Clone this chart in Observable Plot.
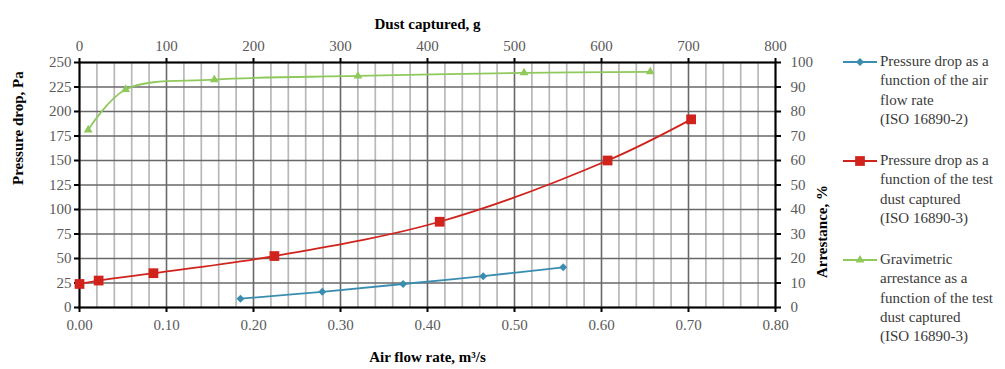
<!DOCTYPE html>
<html>
<head>
<meta charset="utf-8">
<script src="https://cdn.jsdelivr.net/npm/d3@7"></script>
<script src="https://cdn.jsdelivr.net/npm/@observablehq/plot@0.6"></script>
<style>
  html, body { margin: 0; padding: 0; background: #fff; }
  #wrap { position: relative; width: 1005px; height: 369px; font-family: "Liberation Serif", "Times New Roman", Times, Tinos, "Noto Serif", "DejaVu Serif", FreeSerif, serif; }
  #chart { position: absolute; left: 0; top: 0; }
  .item { position: absolute; left: 843px; width: 162px; }
  .item svg { position: absolute; left: 0; top: 0; }
  .item div { margin-left: 37px; font-size: 15px; line-height: 19.3px; color: #3a3a3a; white-space: nowrap; }
</style>
</head>
<body>
<div id="wrap">
  <div id="chart"></div>
</div>
<script>
// ---- data ----
// Series 1: pressure drop vs air flow rate (ISO 16890-2)
const flowRate = [0.185, 0.279, 0.372, 0.464, 0.556];
const flowDp   = [9, 16, 24, 32, 41];
// Series 2: pressure drop vs test dust captured (ISO 16890-3)
const dustG    = [0, 22, 85, 224, 414, 607, 703];
const dustDp   = [24, 27.5, 35, 52.5, 87.5, 150, 192];
// Series 3: gravimetric arrestance vs test dust captured (ISO 16890-3)
const arrDustG = [10, 53, 155, 320, 511, 656];
const arrest   = [72.5, 89, 93, 94.5, 95.8, 96.2];
// Axis ticks
const flowTicks   = [0, 0.1, 0.2, 0.3, 0.4, 0.5, 0.6, 0.7, 0.8];
const flowMinor   = d3.range(0, 41).map(i => i * 0.02);
const dustTicks   = [0, 100, 200, 300, 400, 500, 600, 700, 800];
const dpTicks     = [0, 25, 50, 75, 100, 125, 150, 175, 200, 225, 250];
const arrTicks    = [0, 10, 20, 30, 40, 50, 60, 70, 80, 90, 100];
const seriesNames = [
  ["Pressure drop as a", "function of the air", "flow rate", "(ISO 16890-2)"],
  ["Pressure drop as a", "function of the test", "dust captured", "(ISO 16890-3)"],
  ["Gravimetric", "arrestance as a", "function of the test", "dust captured", "(ISO 16890-3)"]
];
const colors = ["#3a8db0", "#d0231c", "#8fc95c"];
const symbols = ["diamond2", "square", "triangle2"];
const symbolFns = [d3.symbolDiamond2, d3.symbolSquare, d3.symbolTriangle2];
const radii = [3.6, 5.5, 4.2];

// conversions onto the primary scales (x: m³/s, y: Pa)
const gToX = g => g / 1000;        // 0..800 g  -> 0..0.8
const pctToY = p => p * 2.5;       // 0..100 %  -> 0..250

const s1 = flowRate.map((x, i) => ({x, y: flowDp[i]}));
const s2 = dustG.map((g, i) => ({x: gToX(g), y: dustDp[i]}));
const s3 = arrDustG.map((g, i) => ({x: gToX(g), y: pctToY(arrest[i])}));

const majorGrid = "#686868", minorGrid = "#b8b8b8";
const FONT = '"Liberation Serif", "Times New Roman", Times, Tinos, "Noto Serif", "DejaVu Serif", FreeSerif, serif';

const chart = Plot.plot({
  width: 840,
  height: 369,
  marginLeft: 79,
  marginRight: 65,
  marginTop: 62,
  marginBottom: 62,
  x: {domain: [0, 0.8]},
  y: {domain: [0, 250]},
  style: {fontFamily: FONT, fontSize: "15px", color: "#595959", background: "white"},
  marks: [
    Plot.gridX(flowMinor.filter((d, i) => i % 5 !== 0), {stroke: minorGrid, strokeOpacity: 1, strokeWidth: 1.7}),
    Plot.gridX(flowTicks, {stroke: majorGrid, strokeOpacity: 1, strokeWidth: 1.6}),
    Plot.gridY(dpTicks, {stroke: majorGrid, strokeOpacity: 1, strokeWidth: 1.6}),
    Plot.frame({stroke: "black", strokeWidth: 2}),
    Plot.axisX({anchor: "bottom", ticks: flowTicks, tickFormat: d => d.toFixed(2), tickSize: 5, tickPadding: 7, stroke: "black", strokeWidth: 2, label: null, fill: "#595959", fontFamily: FONT}),
    Plot.axisX({anchor: "top", ticks: dustTicks.map(gToX), tickFormat: d => String(Math.round(d * 1000)), tickSize: 5, tickPadding: 7, stroke: "black", strokeWidth: 2, label: null, fill: "#595959", fontFamily: FONT}),
    Plot.axisY({anchor: "left", ticks: dpTicks, tickSize: 5, tickPadding: 3, stroke: "black", strokeWidth: 2, label: null, fill: "#595959", fontFamily: FONT}),
    Plot.axisY({anchor: "right", ticks: arrTicks.map(pctToY), tickFormat: d => String(Math.round(d / 2.5)), tickSize: 5, tickPadding: 10, stroke: "black", strokeWidth: 2, label: null, fill: "#595959", fontFamily: FONT}),
    Plot.text(["Air flow rate, m³/s"], {frameAnchor: "bottom", dy: 54, fontWeight: "bold", fill: "black", fontSize: 15, fontFamily: FONT}),
    Plot.text(["Dust captured, g"], {frameAnchor: "top", dy: -44, fontWeight: "bold", fill: "black", fontSize: 15, fontFamily: FONT}),
    Plot.text(["Pressure drop, Pa"], {frameAnchor: "left", dx: -61, rotate: -90, fontWeight: "bold", fill: "black", fontSize: 15, fontFamily: FONT}),
    Plot.text(["Arrestance, %"], {frameAnchor: "right", dx: 47, rotate: -90, fontWeight: "bold", fill: "black", fontSize: 15, fontFamily: FONT}),
    Plot.line(s3, {x: "x", y: "y", curve: "catmull-rom", stroke: colors[2], strokeWidth: 1.8}),
    Plot.dot(s3, {x: "x", y: "y", symbol: symbols[2], r: radii[2], fill: colors[2], stroke: "none"}),
    Plot.line(s2, {x: "x", y: "y", curve: "catmull-rom", stroke: colors[1], strokeWidth: 1.8}),
    Plot.dot(s2, {x: "x", y: "y", symbol: symbols[1], r: radii[1], fill: colors[1], stroke: "none"}),
    Plot.line(s1, {x: "x", y: "y", curve: "catmull-rom", stroke: colors[0], strokeWidth: 1.8}),
    Plot.dot(s1, {x: "x", y: "y", symbol: symbols[0], r: radii[0], fill: colors[0], stroke: "none"})
  ]
});
document.getElementById("chart").appendChild(chart);

// legend
const tops = [52, 151, 250];
const wrap = document.getElementById("wrap");
seriesNames.forEach((lines, i) => {
  const item = document.createElement("div");
  item.className = "item";
  item.style.top = tops[i] + "px";
  const sym = d3.symbol(symbolFns[i], Math.PI * radii[i] ** 2)();
  item.innerHTML = `<svg width="36" height="20"><line x1="0" x2="34" y1="10" y2="10" stroke="${colors[i]}" stroke-width="2"/>` +
    `<path d="${sym}" transform="translate(17,10)" fill="${colors[i]}"/></svg>` +
    `<div>${lines.join("<br>")}</div>`;
  wrap.appendChild(item);
});
</script>
</body>
</html>
